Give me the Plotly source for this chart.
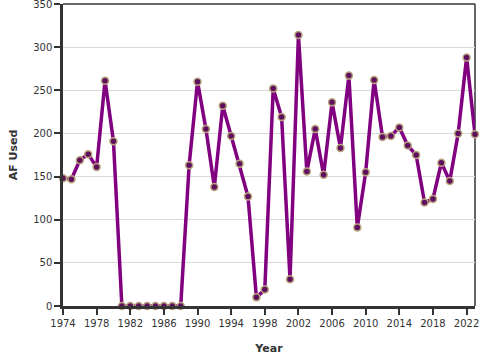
import plotly.graph_objects as go

years = list(range(1974, 2024))
af_used = [148, 147, 169, 176, 161, 261, 191,
           0, 0, 0, 0, 0, 0, 0, 0,
           163, 260, 205, 138, 232, 197, 165, 127, 10, 19, 252, 219, 31, 314,
           156, 205, 152, 236, 183, 267, 91, 155, 262, 196, 197, 207, 186, 175,
           120, 124, 166, 145, 200, 288, 199]

fig = go.Figure()
fig.add_trace(go.Scatter(
    x=years, y=af_used, mode="lines+markers",
    line=dict(color="#800080", width=3.5),
    marker=dict(color="#5e0f5e", size=7, line=dict(color="#b8a47c", width=1.5)),
    cliponaxis=False, showlegend=False,
))

axis_font = dict(family="DejaVu Sans", size=10, color="#333333")
fig.update_layout(
    width=480, height=360,
    margin=dict(l=63, r=5, t=4, b=54, autoexpand=False),
    paper_bgcolor="white", plot_bgcolor="white",
    font=dict(family="DejaVu Sans", color="#333333"),
    xaxis=dict(
        range=[1974, 2023], tick0=1974, dtick=4, showgrid=False, automargin=False,
        ticks="outside", ticklen=6, tickwidth=1.5, tickcolor="#333333",
        showline=True, linecolor="#333333", linewidth=2.5,
        tickfont=axis_font, zeroline=False, ticklabeloverflow="allow",
        title=dict(text="<b>Year</b>", font=dict(family="DejaVu Sans", size=11, color="#333333"), standoff=17),
    ),
    yaxis=dict(
        range=[0, 350], tick0=0, dtick=50, showgrid=True, gridcolor="#d9d9d9", gridwidth=1,
        automargin=False, ticklabeloverflow="allow",
        ticks="outside", ticklen=6, tickwidth=1.5, tickcolor="#333333",
        showline=True, linecolor="#333333", linewidth=2.5,
        tickfont=axis_font, zeroline=False,
        title=dict(text="<b>AF Used</b>", font=dict(family="DejaVu Sans", size=11, color="#333333"), standoff=14),
    ),
    shapes=[
        dict(type="line", xref="paper", yref="paper", x0=0, x1=1, y0=1, y1=1,
             line=dict(color="#333333", width=1.5), layer="below"),
        dict(type="line", xref="paper", yref="paper", x0=1, x1=1, y0=0, y1=1,
             line=dict(color="#333333", width=1.5), layer="below"),
    ],
)

fig.write_html("out.html", config={"displayModeBar": False},
               post_script="document.body.style.margin='0';document.body.style.overflow='hidden';")
